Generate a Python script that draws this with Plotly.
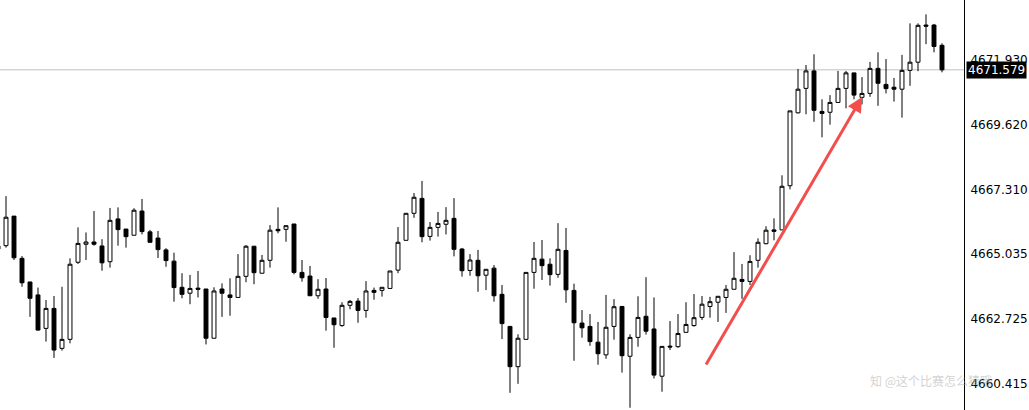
"""
MT4-style candlestick chart with price scale on the right.
"""
import plotly.graph_objects as go

# --- DATA ---
open_ = [4665.32, 4665.33, 4666.38, 4664.88, 4664.04, 4663.58, 4662.39, 4663.10, 4661.68, 4662.00,
         4664.74, 4665.38, 4665.46, 4665.32, 4664.76, 4666.28, 4665.92, 4665.70, 4666.56, 4665.82,
         4665.60, 4665.18, 4664.78, 4663.85, 4663.64, 4663.82, 4663.79, 4662.04, 4663.79, 4663.58,
         4663.49, 4664.24, 4665.31, 4664.35, 4664.81, 4665.91, 4665.91, 4666.10, 4664.38, 4664.25,
         4663.55, 4663.79, 4662.76, 4662.49, 4663.21, 4663.36, 4663.03, 4663.74, 4663.74, 4663.81,
         4664.46, 4665.52, 4666.48, 4667.01, 4665.66, 4665.98, 4666.09, 4666.30, 4665.21, 4664.45,
         4664.81, 4664.28, 4664.53, 4663.60, 4662.46, 4661.03, 4662.00, 4664.38, 4664.85, 4664.67,
         4664.31, 4665.16, 4663.74, 4662.58, 4662.46, 4661.90, 4661.45, 4662.46, 4663.17, 4661.40,
         4662.07, 4662.82, 4662.37, 4660.69, 4661.76, 4661.74, 4662.25, 4662.49, 4662.78, 4663.17,
         4663.32, 4663.49, 4663.78, 4664.13, 4664.06, 4664.81, 4665.40, 4665.89, 4665.89, 4667.46,
         4670.05, 4670.92, 4671.54, 4670.10, 4670.07, 4670.42, 4670.92, 4671.47, 4670.60, 4670.74,
         4671.63, 4671.06, 4670.96, 4670.89, 4671.56, 4671.85, 4673.17, 4673.17, 4672.45]
high = [4665.35, 4667.09, 4666.38, 4664.96, 4664.04, 4663.84, 4663.40, 4663.54, 4663.87, 4664.88,
        4665.98, 4665.80, 4666.56, 4665.56, 4666.67, 4666.69, 4665.92, 4666.66, 4666.99, 4665.89,
        4665.85, 4665.24, 4665.08, 4664.35, 4664.29, 4664.43, 4663.79, 4663.85, 4663.99, 4664.17,
        4665.03, 4665.35, 4665.31, 4665.00, 4666.06, 4666.69, 4666.04, 4666.10, 4664.82, 4664.61,
        4664.14, 4664.18, 4662.76, 4663.32, 4663.40, 4663.47, 4664.07, 4663.84, 4663.85, 4664.43,
        4665.99, 4666.48, 4667.20, 4667.63, 4666.17, 4666.53, 4666.70, 4667.02, 4665.25, 4665.03,
        4665.18, 4664.49, 4664.64, 4663.93, 4662.46, 4662.18, 4664.38, 4665.46, 4665.53, 4664.88,
        4666.13, 4665.96, 4663.98, 4663.04, 4662.90, 4662.62, 4663.58, 4663.43, 4663.17, 4662.18,
        4663.53, 4664.21, 4663.49, 4661.75, 4662.65, 4662.90, 4663.32, 4663.61, 4663.54, 4663.51,
        4663.53, 4663.93, 4665.10, 4664.68, 4664.99, 4665.59, 4666.02, 4666.30, 4667.83, 4670.12,
        4671.61, 4671.75, 4672.13, 4670.53, 4670.68, 4671.54, 4671.54, 4671.47, 4671.32, 4671.86,
        4672.20, 4671.96, 4671.29, 4672.11, 4673.23, 4673.23, 4673.55, 4673.21, 4672.52]
low = [4665.18, 4665.26, 4664.82, 4663.87, 4662.80, 4662.31, 4661.92, 4661.34, 4661.60, 4661.86,
       4664.68, 4664.82, 4665.33, 4664.44, 4664.55, 4665.33, 4665.26, 4665.70, 4665.73, 4665.45,
       4664.89, 4664.58, 4663.34, 4663.46, 4663.25, 4663.49, 4661.82, 4662.04, 4662.80, 4662.84,
       4663.49, 4664.03, 4663.96, 4664.35, 4664.55, 4665.77, 4665.47, 4664.31, 4664.05, 4663.55,
       4663.44, 4662.31, 4661.70, 4662.45, 4663.07, 4662.59, 4662.77, 4663.41, 4663.52, 4663.81,
       4664.35, 4665.52, 4666.32, 4665.45, 4665.51, 4665.65, 4665.73, 4664.95, 4664.23, 4664.26,
       4663.69, 4663.75, 4663.34, 4662.01, 4660.10, 4660.42, 4662.00, 4663.80, 4664.11, 4663.91,
       4664.19, 4663.30, 4661.24, 4662.06, 4661.77, 4661.10, 4661.31, 4661.99, 4660.82, 4659.57,
       4661.74, 4662.17, 4660.61, 4660.14, 4661.62, 4661.70, 4662.25, 4662.45, 4662.69, 4662.77,
       4662.62, 4662.94, 4663.78, 4663.44, 4663.93, 4664.55, 4665.38, 4665.52, 4665.89, 4667.33,
       4670.03, 4670.00, 4669.73, 4669.18, 4669.63, 4670.42, 4670.21, 4670.53, 4670.35, 4670.62,
       4670.30, 4670.74, 4670.45, 4669.88, 4671.01, 4671.53, 4672.49, 4672.20, 4671.49]
close = [4665.21, 4666.34, 4664.90, 4664.01, 4663.46, 4662.33, 4663.10, 4661.62, 4662.00, 4664.67,
         4665.41, 4665.46, 4665.38, 4664.72, 4666.23, 4665.90, 4665.65, 4666.59, 4665.83, 4665.45,
         4665.19, 4664.80, 4663.84, 4663.60, 4663.81, 4663.78, 4662.04, 4663.72, 4663.64, 4663.49,
         4664.24, 4665.31, 4664.37, 4664.81, 4665.88, 4665.86, 4666.04, 4664.38, 4664.19, 4663.55,
         4663.78, 4662.78, 4662.52, 4663.21, 4663.35, 4663.03, 4663.72, 4663.67, 4663.85, 4664.43,
         4665.45, 4666.48, 4667.05, 4665.65, 4665.98, 4666.12, 4666.23, 4665.20, 4664.44, 4664.82,
         4664.26, 4664.49, 4663.55, 4662.56, 4661.03, 4662.04, 4664.38, 4664.88, 4664.62, 4664.30,
         4665.20, 4663.76, 4662.59, 4662.41, 4661.92, 4661.49, 4662.43, 4663.16, 4661.42, 4662.07,
         4662.78, 4662.29, 4660.73, 4661.75, 4661.73, 4662.21, 4662.53, 4662.77, 4663.25, 4663.34,
         4663.53, 4663.78, 4664.17, 4664.06, 4664.77, 4665.45, 4665.88, 4665.84, 4667.44, 4670.12,
         4670.89, 4671.54, 4670.14, 4670.03, 4670.42, 4670.92, 4671.47, 4670.68, 4670.74, 4671.63,
         4671.10, 4670.91, 4670.89, 4671.56, 4671.85, 4673.16, 4673.13, 4672.41, 4671.579]
bars = list(range(len(close)))

price_ticks = [4660.415, 4662.725, 4665.035, 4667.310, 4669.620, 4671.930]
last_price = 4671.579
watermark = "知 @这个比赛怎么猜哦"

FONT = "DejaVu Sans, Tahoma, sans-serif"

fig = go.Figure()

fig.add_trace(go.Candlestick(
    x=bars, open=open_, high=high, low=low, close=close,
    increasing=dict(line=dict(color='black', width=1), fillcolor='white'),
    decreasing=dict(line=dict(color='black', width=1), fillcolor='black'),
    whiskerwidth=0,
    showlegend=False,
    hoverinfo='skip'
))

# current bid line
fig.add_shape(type='line', xref='paper', x0=0, x1=1, y0=last_price, y1=last_price,
              line=dict(color='#c0c0c0', width=1), layer='below')

# price tag on the scale
fig.add_annotation(
    xref='paper', x=1, xanchor='left', xshift=2,
    y=last_price, yref='y', yanchor='middle',
    text=f"{last_price:.3f}", showarrow=False,
    bgcolor='black', borderpad=1,
    font=dict(family=FONT, size=12, color='white')
)

# red trend arrow
fig.add_annotation(
    x=108.0, y=4670.61, ax=88.4, ay=4661.05,
    xref='x', yref='y', axref='x', ayref='y',
    showarrow=True, arrowhead=2, arrowsize=1, arrowwidth=3,
    arrowcolor='#f24e4e', text=''
)

# watermark
fig.add_annotation(
    xref='paper', yref='paper', x=0.9, y=0.073, xanchor='left', yanchor='middle',
    text=watermark, showarrow=False,
    font=dict(family="Noto Sans CJK SC, sans-serif", size=12, color='rgba(170,170,170,0.55)')
)

fig.update_layout(
    width=1029, height=410,
    margin=dict(l=0, r=65, t=0, b=0),
    plot_bgcolor='white', paper_bgcolor='white',
    showlegend=False,
    xaxis=dict(range=[0.25, 120.75], visible=False,
               rangeslider=dict(visible=False), fixedrange=True),
    yaxis=dict(
        range=[4659.49, 4674.06], side='right',
        showgrid=False, zeroline=False,
        showline=True, linecolor='black', linewidth=1,
        tickvals=price_ticks, ticktext=[f"{v:.3f}" for v in price_ticks],
        ticks='', ticklabelstandoff=3,
        tickfont=dict(family=FONT, size=12, color='black'),
        fixedrange=True
    )
)

# drop the browser's default body margin so the chart sits at the window corner
fig.write_html("out.html", config={'displayModeBar': False},
               post_script="document.body.style.margin='0';")
